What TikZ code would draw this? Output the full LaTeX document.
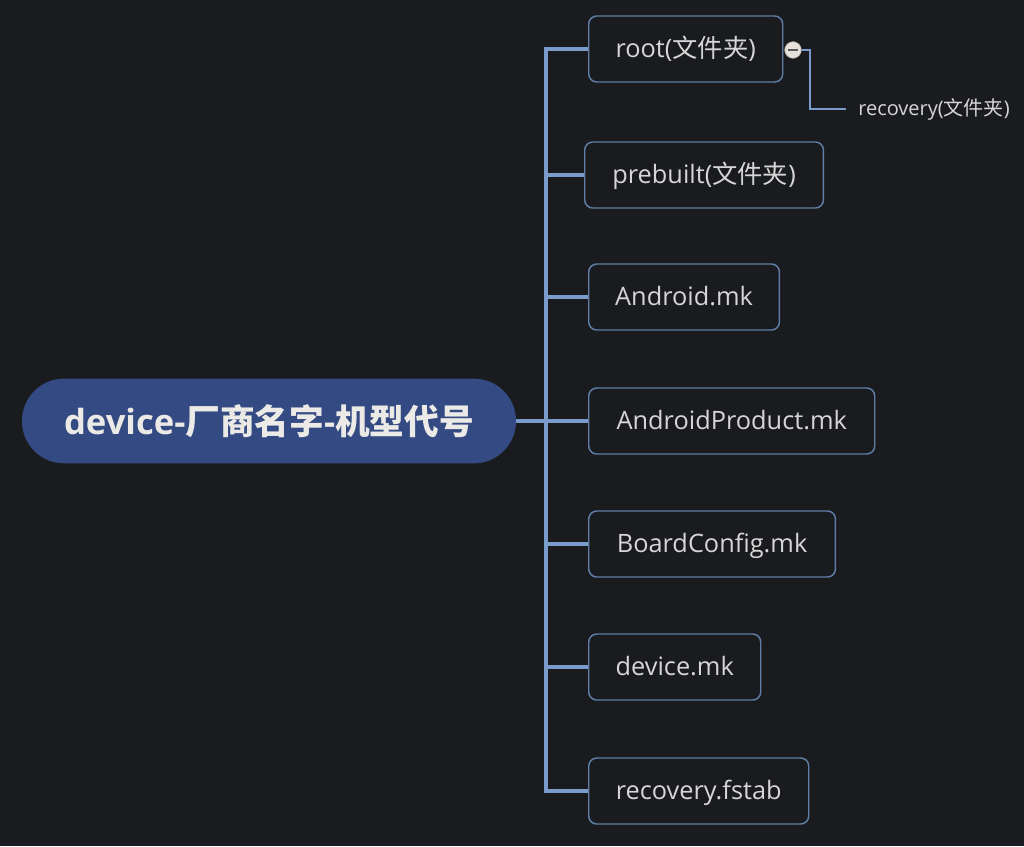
\documentclass[tikz,border=0pt]{standalone}
\usepackage{fontspec}
\setmainfont{Open Sans}
\newfontfamily\cjk{Noto Sans CJK SC}
\definecolor{bg}{HTML}{1A1B1E}
\definecolor{mainfill}{HTML}{344A82}
\definecolor{conncol}{HTML}{7A9CCC}
\definecolor{boxline}{HTML}{5F7EA6}
\definecolor{txt}{HTML}{D6D6D6}
\definecolor{maintxt}{HTML}{ECEAE6}
\definecolor{btnfill}{HTML}{E6E2DA}
\newcommand{\zh}[1]{{\cjk #1}}
\begin{document}
\begin{tikzpicture}[x=0.75pt,y=-0.75pt,
  conn/.style={draw=conncol,line width=2.3pt},
  subconn/.style={draw=conncol,line width=1.6pt},
  leaf/.style={draw=boxline,line width=1.1pt,rounded corners=6pt,fill=bg,
    text=txt,font=\fontsize{19pt}{22pt}\selectfont,anchor=west,
    minimum height=49.5pt,inner xsep=0pt,text height=17pt,text depth=4pt},
  mainnode/.style={fill=mainfill,rounded corners=31.5pt,minimum width=370.5pt,
    minimum height=63.5pt,text=maintxt,font=\fontsize{26pt}{30pt}\selectfont\bfseries},
  small/.style={text=txt,font=\fontsize{15pt}{17pt}\selectfont,anchor=west,inner xsep=9pt}]
\fill[bg] (0,0) rectangle (1024,846);
\useasboundingbox (0,0) rectangle (1024,846);
\node[mainnode] (main) at (269,421) {device-\zh{厂商名字}-\zh{机型代号}};
\node[leaf,minimum width=145.5pt] (b1) at (588,49) {root(\zh{文件夹})};
\node[leaf,minimum width=179pt] (b2) at (584,175) {prebuilt(\zh{文件夹})};
\node[leaf,minimum width=143pt] (b3) at (588,297) {Android.mk};
\node[leaf,minimum width=214.5pt] (b4) at (588,421) {AndroidProduct.mk};
\node[leaf,minimum width=185pt] (b5) at (588,544) {BoardConfig.mk};
\node[leaf,minimum width=129pt] (b6) at (588,667) {device.mk};
\node[leaf,minimum width=165pt] (b7) at (588,791) {recovery.fstab};
\coordinate (tx) at (546,0);
\coordinate (sx) at (810,0);
\node[small] (rec) at (846,109) {recovery(\zh{文件夹})};
\node[circle,fill=btnfill,draw=btnfill!70!black,line width=0.4pt,minimum size=12.5pt,inner sep=0pt] (btn) at (793,50) {};
% connectors
\draw[conn] (main.east) -- (main.east -| tx);
\draw[conn,line join=miter] (b1.west) -- (b1.west -| tx) -- (b7.west -| tx) -- (b7.west);
\draw[conn] (b2.west -| tx) -- (b2.west);
\draw[conn] (b3.west -| tx) -- (b3.west);
\draw[conn] (b4.west -| tx) -- (b4.west);
\draw[conn] (b5.west -| tx) -- (b5.west);
\draw[conn] (b6.west -| tx) -- (b6.west);
\draw[subconn,line join=miter] (btn.east) -- (btn.east -| sx) -- (sx |- rec.west) -- (rec.west);
\draw[draw=gray!70!black,line width=1.3pt] ([xshift=-4pt]btn.center) -- ([xshift=4pt]btn.center);
\end{tikzpicture}
\end{document}
